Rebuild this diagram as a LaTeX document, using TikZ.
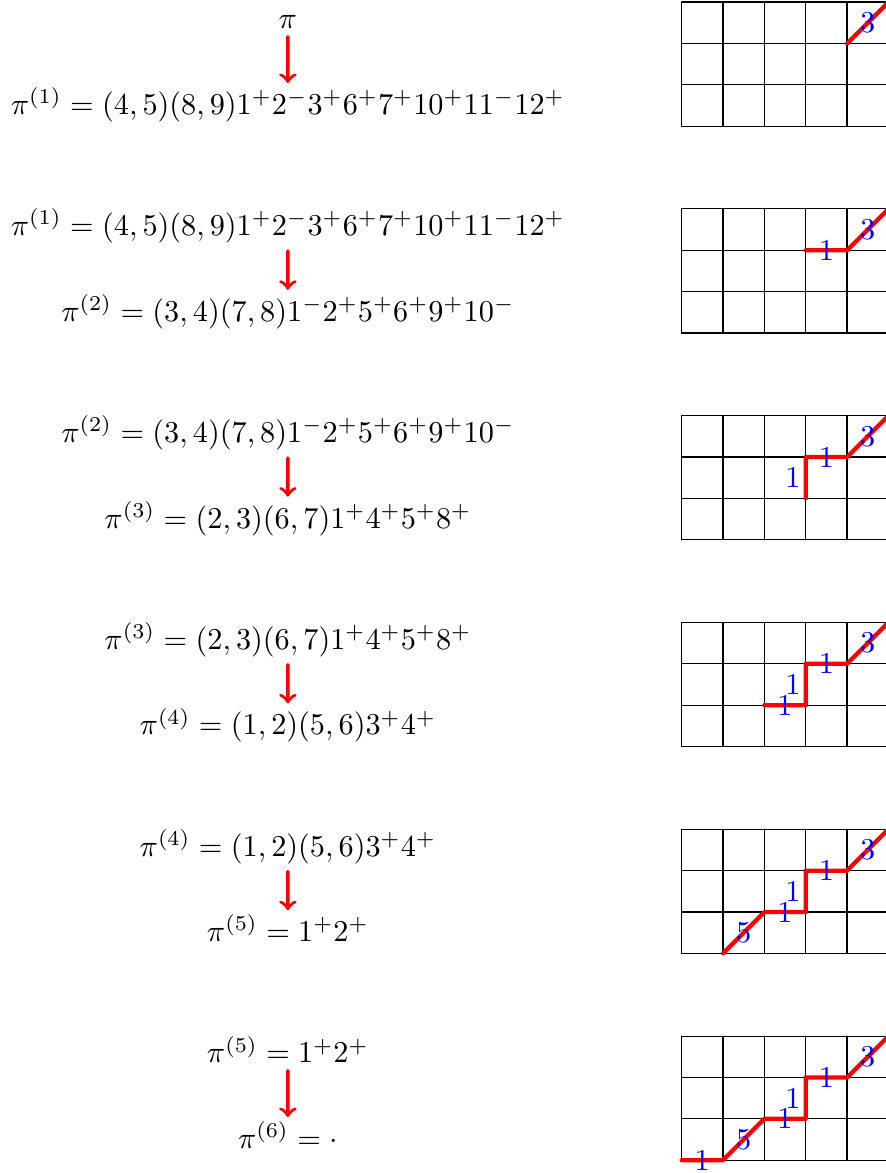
\documentclass[tikz,border=0pt]{standalone}
\begin{document}
\begin{tikzpicture}[scale=0.48, line join=round, line cap=round, >=to,
    redpath/.style={red, line width=1.4pt},
    lab/.style={blue, inner sep=1pt},
    redarrow/.style={->, red, line width=1.1pt, shorten <=-1pt, shorten >=-2pt}]
	\useasboundingbox (-16.48,0.05) rectangle (4.94,-28.31);
	\clip (-16.48,0.05) rectangle (4.94,-28.31);
	% grids
	\foreach \k in {0,...,5} \draw[black, thin] (0,-5*\k-3) grid (6,-5*\k);
	% lattice paths
	\draw[redpath] (4,-1) -- node[lab]{3} (5,0);
	\draw[redpath] (3,-6) -- node[lab]{1} (4,-6) -- node[lab]{3} (5,-5);
	\draw[redpath] (3,-12) -- node[lab,left]{1} (3,-11) -- node[lab]{1} (4,-11) -- node[lab]{3} (5,-10);
	\draw[redpath] (2,-17) -- node[lab]{1} (3,-17) -- node[lab,left]{1} (3,-16) -- node[lab]{1} (4,-16) -- node[lab]{3} (5,-15);
	\draw[redpath] (1,-23) -- node[lab]{5} (2,-22) -- node[lab]{1} (3,-22) -- node[lab,left]{1} (3,-21) -- node[lab]{1} (4,-21) -- node[lab]{3} (5,-20);
	\draw[redpath] (0,-28) -- node[lab]{1} (1,-28) -- node[lab]{5} (2,-27) -- node[lab]{1} (3,-27) -- node[lab,left]{1} (3,-26) -- node[lab]{1} (4,-26) -- node[lab]{3} (5,-25);
	% reduction steps
	\node[anchor=base] (p0) at (-9.52,-0.65) {$\pi$};
	\node[anchor=base] (q1) at (-9.52,-2.72) {$\pi^{(1)} = (4,5)(8,9)1^+2^-3^+6^+7^+10^+11^-12^+$};
	\node[anchor=base] (p1) at (-9.52,-5.65) {$\pi^{(1)} = (4,5)(8,9)1^+2^-3^+6^+7^+10^+11^-12^+$};
	\node[anchor=base] (q2) at (-9.52,-7.72) {$\pi^{(2)} = (3,4)(7,8)1^-2^+5^+6^+9^+10^-$};
	\node[anchor=base] (p2) at (-9.52,-10.65) {$\pi^{(2)} = (3,4)(7,8)1^-2^+5^+6^+9^+10^-$};
	\node[anchor=base] (q3) at (-9.52,-12.72) {$\pi^{(3)} = (2,3)(6,7)1^+4^+5^+8^+$};
	\node[anchor=base] (p3) at (-9.52,-15.65) {$\pi^{(3)} = (2,3)(6,7)1^+4^+5^+8^+$};
	\node[anchor=base] (q4) at (-9.52,-17.72) {$\pi^{(4)} = (1,2)(5,6)3^+4^+$};
	\node[anchor=base] (p4) at (-9.52,-20.65) {$\pi^{(4)} = (1,2)(5,6)3^+4^+$};
	\node[anchor=base] (q5) at (-9.52,-22.72) {$\pi^{(5)} = 1^+2^+$};
	\node[anchor=base] (p5) at (-9.52,-25.65) {$\pi^{(5)} = 1^+2^+$};
	\node[anchor=base] (q6) at (-9.52,-27.72) {$\pi^{(6)} = \cdot$};
	\foreach \i/\j in {p0/q1,p1/q2,p2/q3,p3/q4,p4/q5,p5/q6} \draw[redarrow] (\i) -- (\j);
\end{tikzpicture}
\end{document}
